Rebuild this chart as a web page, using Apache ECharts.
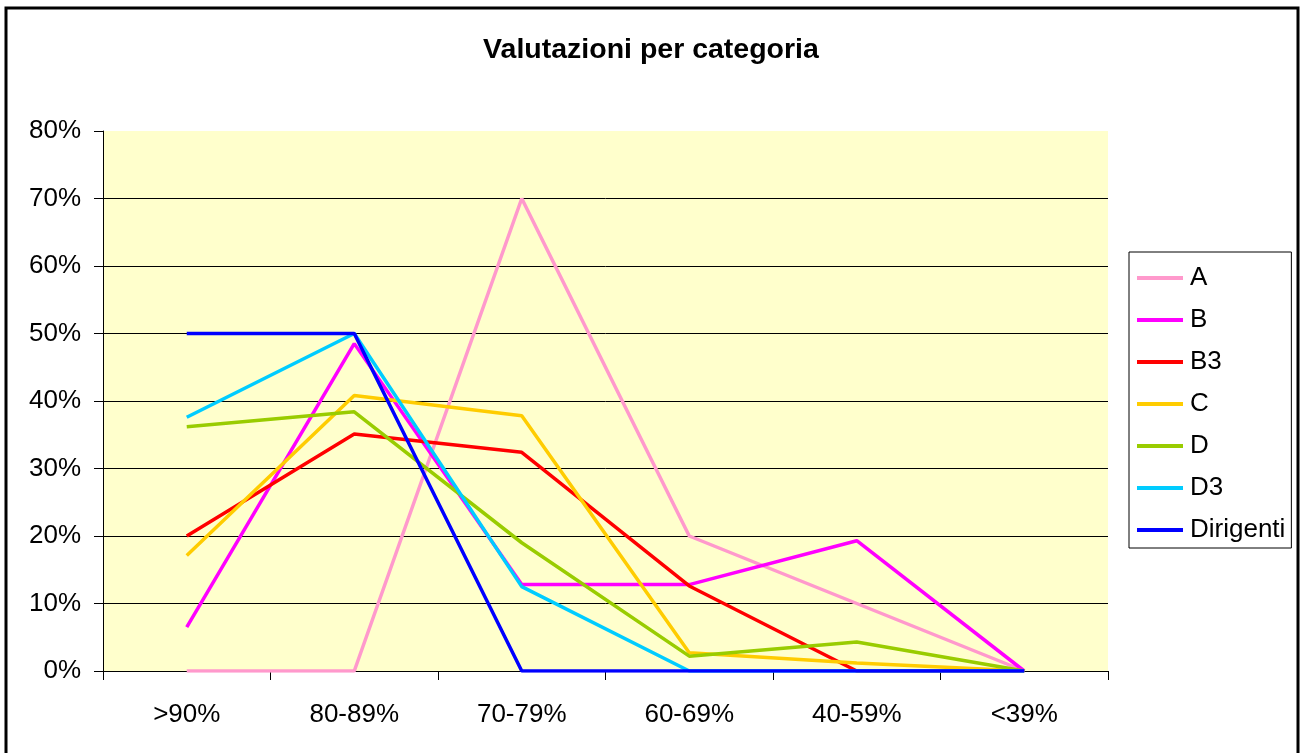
<!DOCTYPE html>
<html>
<head>
<meta charset="utf-8">
<script src="https://cdn.jsdelivr.net/npm/echarts@6/dist/echarts.min.js"></script>
<style>
html,body{margin:0;padding:0;background:#fff;}
#c{width:1302px;height:753px;}
</style>
</head>
<body>
<div id="c"></div>
<script>
const categories = ['>90%', '80-89%', '70-79%', '60-69%', '40-59%', '<39%'];
const seriesNames = ['A', 'B', 'B3', 'C', 'D', 'D3', 'Dirigenti'];
const valA = [0, 0, 70, 20, 10, 0];
const valB = [6.5, 48.5, 12.8, 12.8, 19.3, 0];
const valB3 = [20, 35.1, 32.4, 12.6, 0, 0];
const valC = [17.1, 40.8, 37.8, 2.7, 1.2, 0];
const valD = [36.2, 38.4, 19.0, 2.2, 4.3, 0];
const valD3 = [37.6, 50, 12.5, 0, 0, 0];
const valDirigenti = [50, 50, 0, 0, 0, 0];
const yTicks = [0, 10, 20, 30, 40, 50, 60, 70, 80];

const colors = ['#FF99CC', '#FF00FF', '#FF0000', '#FFCC00', '#99CC00', '#00CCFF', '#0000FF'];
const allValues = [valA, valB, valB3, valC, valD, valD3, valDirigenti];
const FONT = '"Liberation Sans", Arial, sans-serif';

const chart = echarts.init(document.getElementById('c'));
chart.setOption({
  animation: false,
  backgroundColor: '#ffffff',
  graphic: [{
    type: 'rect',
    shape: { x: 6, y: 8, width: 1292, height: 780 },
    style: { fill: 'none', stroke: '#000', lineWidth: 3 },
    silent: true,
    z: -1
  }],
  title: {
    text: 'Valutazioni per categoria',
    left: 'center',
    top: 31,
    textStyle: { fontFamily: FONT, fontSize: 28.5, fontWeight: 'bold', color: '#000' }
  },
  legend: {
    orient: 'vertical',
    left: 1129,
    top: 252,
    padding: [11, 6, 3, 8],
    borderColor: '#000',
    borderWidth: 1,
    backgroundColor: '#fff',
    itemGap: 12,
    itemWidth: 46,
    itemHeight: 4,
    icon: 'rect',
    data: seriesNames,
    textStyle: { fontFamily: FONT, fontSize: 26, color: '#000', lineHeight: 30, padding: [0, 0, 0, 2] }
  },
  grid: {
    left: 103, top: 131, right: 194, bottom: 82,
    show: true, backgroundColor: '#FFFFCC', borderWidth: 0
  },
  xAxis: {
    type: 'category',
    data: categories,
    boundaryGap: true,
    axisLine: { lineStyle: { color: '#000', width: 1 } },
    axisTick: { show: true, length: 9, lineStyle: { color: '#000' } },
    axisLabel: { fontFamily: FONT, fontSize: 26, color: '#000', margin: 31 },
    splitLine: { show: false }
  },
  yAxis: {
    type: 'value',
    min: yTicks[0],
    max: yTicks[yTicks.length - 1],
    interval: 10,
    axisLine: { show: true, lineStyle: { color: '#000', width: 1 } },
    axisTick: { show: true, length: 9, lineStyle: { color: '#000' } },
    axisLabel: { fontFamily: FONT, fontSize: 26, color: '#000', margin: 22, formatter: v => v + '%' },
    splitLine: { show: true, showMaxLine: false, lineStyle: { color: '#000', width: 1 } }
  },
  series: seriesNames.map((n, i) => ({
    name: n,
    type: 'line',
    data: allValues[i],
    showSymbol: false,
    symbol: 'none',
    color: colors[i],
    lineStyle: { color: colors[i], width: 3.5 },
    z: 2 + i
  }))
});
</script>
</body>
</html>
